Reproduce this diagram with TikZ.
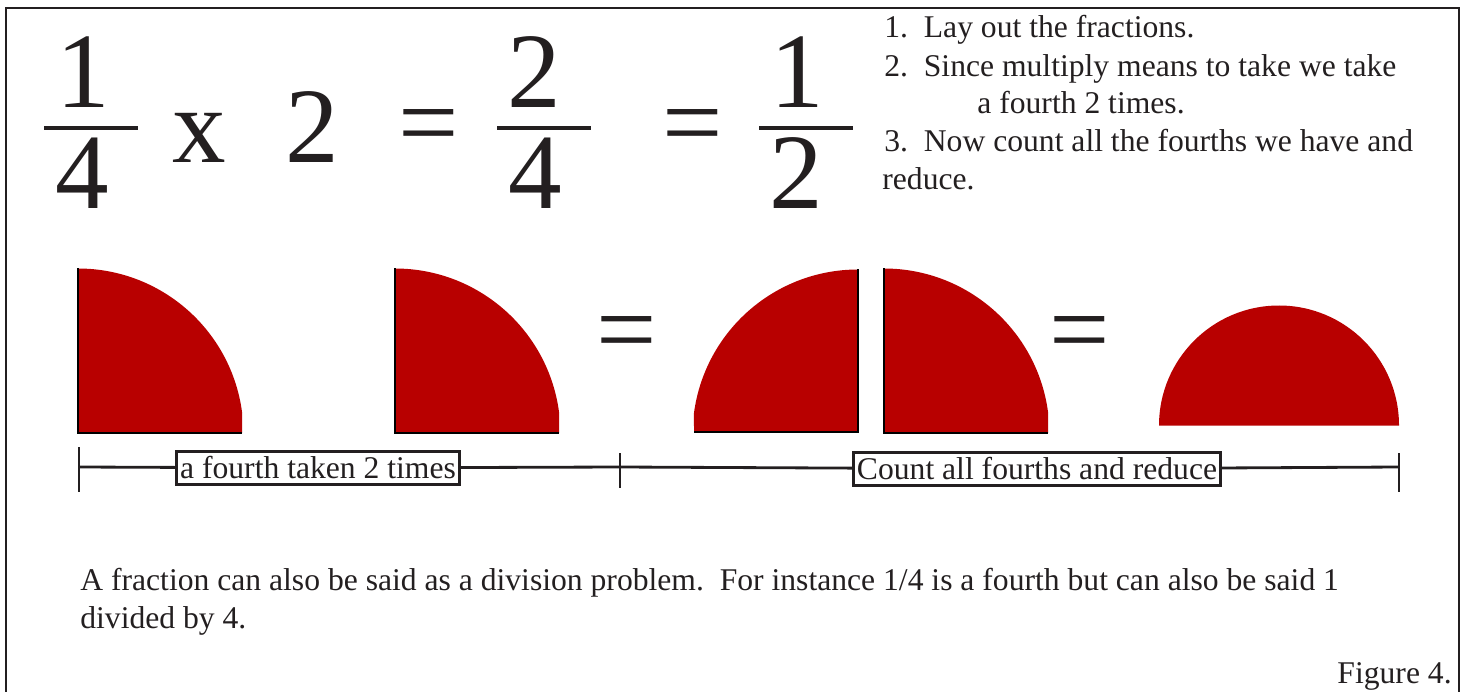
\documentclass[tikz,border=0pt]{standalone}
\usepackage{fontspec}
\setmainfont{Liberation Serif}
\usepackage{tikz}
\usepackage{xcolor}
\definecolor{wedgec}{HTML}{B80000}
\definecolor{inkc}{HTML}{231F20}
\tikzset{
  outline/.style={draw=inkc, line width=1.6pt},
  bigdigit/.style={text=inkc, font=\fontsize{61}{61}\selectfont, inner sep=0pt, anchor=base},
  fracbar/.style={draw=inkc, line width=2.2pt},
  wedge/.style={fill=wedgec},
  wedgeedge/.style={draw=black, line width=0.6pt},
  bodytext/.style={text=inkc, font=\fontsize{18}{21}\selectfont, inner sep=0pt, anchor=base west},
  tagbox/.style={draw=inkc, line width=1.4pt, fill=white, text=inkc, font=\fontsize{18}{21}\selectfont, inner xsep=2pt, inner ysep=3pt},
  scaleline/.style={draw=inkc, line width=1.6pt},
}
\begin{document}
\begin{tikzpicture}[x=0.02cm,y=0.02cm]
\useasboundingbox (0,0) rectangle (1466,-692);
\draw[outline] (6,-692) -- (6,-8) -- (1459,-8) -- (1459,-692);
\node[bigdigit] (numa) at (83,-108) {1};
\node[bigdigit] (dena) at (82,-209) {4};
\draw[fracbar] (44,-128) -- (138,-128);
\node[bigdigit] (times) at (199,-163) {x};
\node[bigdigit] (two) at (312,-163) {2};
\node[bigdigit] (eqa) at (429,-159) {=};
\node[bigdigit] (numb) at (534,-108) {2};
\node[bigdigit] (denb) at (535,-209) {4};
\draw[fracbar] (497,-128) -- (591,-128);
\node[bigdigit] (eqb) at (693,-159) {=};
\node[bigdigit] (numc) at (797,-108) {1};
\node[bigdigit] (denc) at (796,-209) {2};
\draw[fracbar] (759,-128) -- (853,-128);
\node[bodytext] (stepa) at (884,-38) {1.\ \ Lay out the fractions.};
\node[bodytext] (stepb) at (884,-77) {2.\ \ Since multiply means to take we take};
\node[bodytext] (stepbb) at (977,-114) {a fourth 2 times.};
\node[bodytext] (stepc) at (884,-152) {3.\ \ Now count all the fourths we have and};
\node[bodytext] (stepcc) at (882,-190) {reduce.};
\fill[wedge] (78,-433) -- (78,-268.5) arc[start angle=90,end angle=7.6,radius=165.5] -- (242,-433) -- cycle;
\draw[wedgeedge] (78,-268.5) -- (78,-433) -- (242,-433);
\fill[wedge] (395,-433) -- (395,-268.5) arc[start angle=90,end angle=7.6,radius=165.5] -- (559,-433) -- cycle;
\draw[wedgeedge] (395,-268.5) -- (395,-433) -- (559,-433);
\node[bigdigit] (eqc) at (627,-365) {=};
\fill[wedge] (858,-432) -- (858,-269.5) arc[start angle=90,end angle=172.4,radius=165.5] -- (694,-432) -- cycle;
\draw[wedgeedge] (858,-269.5) -- (858,-432) -- (694,-432);
\fill[wedge] (884,-433) -- (884,-268.5) arc[start angle=90,end angle=7.6,radius=165.5] -- (1048,-433) -- cycle;
\draw[wedgeedge] (884,-268.5) -- (884,-433) -- (1048,-433);
\node[bigdigit] (eqd) at (1080,-365) {=};
\fill[wedge] (1159,-425.5) arc[start angle=180,end angle=0,radius=120] -- cycle;
\coordinate (ta) at (79,-467);
\coordinate (tb) at (620,-467);
\coordinate (tc) at (1399,-467);
\draw[scaleline] (79,-447) -- (79,-492);
\draw[scaleline] (620,-453) -- (620,-488);
\draw[scaleline] (1399,-453) -- (1399,-492);
\node[tagbox] (taga) at (318,-468) {a fourth taken 2 times};
\node[tagbox] (tagb) at (1037,-469) {Count all fourths and reduce};
\draw[scaleline] (ta) -- (taga) -- (tb) -- (tagb) -- (tc);
\node[bodytext] (notea) at (80,-590) {A fraction can also be said as a division problem.\ \ For instance 1/4 is a fourth but can also be said 1};
\node[bodytext] (noteb) at (80,-628) {divided by 4.};
\node[bodytext, anchor=base east] (fig) at (1452,-683) {Figure 4.};
\end{tikzpicture}
\end{document}
